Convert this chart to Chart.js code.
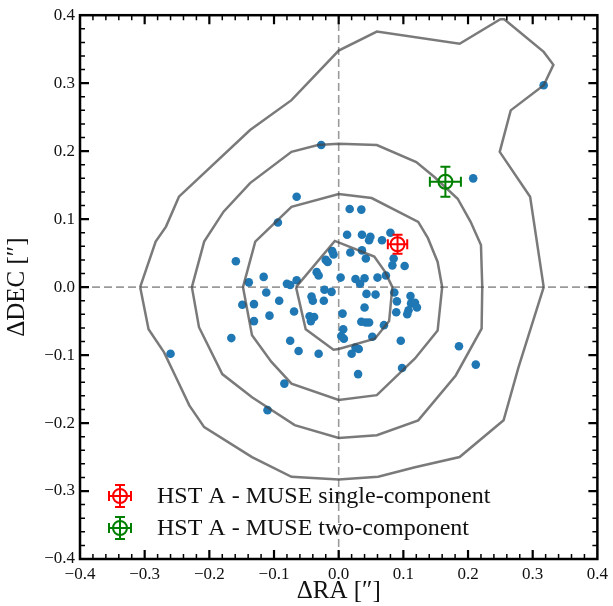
<!DOCTYPE html>
<html>
<head>
<meta charset="utf-8">
<script src="https://cdn.jsdelivr.net/npm/chart.js@4.4.0/dist/chart.umd.min.js"></script>
<style>
  html, body { margin: 0; padding: 0; background: #fff; }
  #wrap { width: 613px; height: 606px; position: relative; }
</style>
</head>
<body>
<div id="wrap"><canvas id="my-chart"></canvas></div>
<script>
// offsets of individual sources, [dRA, dDEC] in arcsec
const offsetsRA = [
  -0.065, -0.094, 0.017, 0.035, 0.013, 0.036, 0.049, 0.047, 0.067, 0.080,
  0.085, 0.083, 0.102, -0.159, -0.010, -0.008, 0.018, 0.036, 0.042, -0.020,
  -0.017, -0.034, -0.031, 0.003, 0.026, 0.040, 0.033, 0.060, 0.073, -0.116,
  -0.139, -0.080, -0.075, -0.065, -0.112, -0.149, -0.131, -0.092, -0.107, -0.131,
  -0.166, -0.022, -0.011, -0.042, -0.040, -0.023, -0.069, -0.045, -0.038, -0.043,
  0.006, 0.043, 0.057, 0.086, 0.090, 0.111, 0.112, 0.118, 0.121, 0.108,
  0.106, 0.089, 0.040, 0.035, 0.042, 0.047, 0.070, 0.007, 0.004, 0.008,
  0.052, 0.026, 0.031, 0.020, 0.096, -0.075, -0.062, -0.031, 0.098, 0.030,
  -0.084, -0.027, 0.208, 0.317, -0.260, 0.186, 0.212, -0.110
];
const offsetsDEC = [
  0.133, 0.095, 0.115, 0.114, 0.077, 0.077, 0.074, 0.069, 0.069, 0.080,
  0.042, 0.032, 0.031, 0.038, 0.053, 0.048, 0.051, 0.054, 0.042, 0.040,
  0.037, 0.022, 0.017, 0.014, 0.012, 0.013, 0.005, 0.014, 0.017, 0.015,
  0.007, 0.005, 0.003, 0.010, -0.008, -0.026, -0.025, -0.020, -0.042, -0.050,
  -0.075, -0.004, -0.007, -0.014, -0.020, -0.020, -0.036, -0.043, -0.044, -0.050,
  -0.039, -0.010, -0.011, -0.008, -0.021, -0.013, -0.024, -0.023, -0.030, -0.034,
  -0.040, -0.037, -0.030, -0.051, -0.052, -0.052, -0.056, -0.062, -0.072, -0.076,
  -0.073, -0.089, -0.091, -0.098, -0.079, -0.079, -0.094, -0.098, -0.119, -0.128,
  -0.142, 0.209, 0.160, 0.297, -0.098, -0.087, -0.114, -0.181
];

// density contours, closed polygons [x, y]
const contour1 = [
  [-0.066, 0], [-0.006, 0.068], [0.055, 0.045], [0.072, 0.022], [0.083, 0],
  [0.078, -0.050], [0.056, -0.076], [0, -0.091], [-0.008, -0.092], [-0.051, -0.062], [-0.066, 0]
];
const contour2 = [
  [-0.148, 0], [-0.129, 0.067], [-0.073, 0.118], [0, 0.137], [0.051, 0.131], [0.092, 0.111],
  [0.123, 0.096], [0.138, 0.072], [0.153, 0.037], [0.160, 0], [0.153, -0.064], [0.118, -0.105],
  [0.059, -0.159], [0, -0.166], [-0.073, -0.142], [-0.104, -0.110], [-0.134, -0.071], [-0.148, 0]
];
const contour3 = [
  [-0.227, 0], [-0.208, 0.067], [-0.178, 0.111], [-0.137, 0.153], [-0.073, 0.199], [-0.032, 0.209],
  [0, 0.211], [0.059, 0.209], [0.120, 0.184], [0.148, 0.162], [0.184, 0.130], [0.204, 0.096],
  [0.220, 0.062], [0.222, 0], [0.221, -0.061], [0.181, -0.130], [0.123, -0.196], [0.059, -0.218],
  [0, -0.222], [-0.068, -0.203], [-0.134, -0.162], [-0.180, -0.128], [-0.216, -0.059], [-0.227, 0]
];
const contour4 = [
  [-0.307, 0], [-0.283, 0.067], [-0.267, 0.089], [-0.247, 0.133], [-0.137, 0.231], [-0.073, 0.275],
  [0, 0.348], [0.059, 0.376], [0.187, 0.358], [0.250, 0.394], [0.256, 0.394], [0.317, 0.346],
  [0.332, 0.327], [0.317, 0.297], [0.266, 0.260], [0.249, 0.199], [0.296, 0.133], [0.317, 0],
  [0.278, -0.118], [0.255, -0.196], [0.187, -0.250], [0.118, -0.265], [0.061, -0.279], [0, -0.283],
  [-0.073, -0.279], [-0.134, -0.250], [-0.208, -0.206], [-0.231, -0.174], [-0.252, -0.132],
  [-0.270, -0.096], [-0.294, -0.062], [-0.307, 0]
];

// HST A - MUSE offsets with errors
const offsetLabels = ['HST A - MUSE single-component', 'HST A - MUSE two-component'];
const offsetX = [0.091, 0.165];
const offsetY = [0.063, 0.155];
const offsetXErr = [0.015, 0.024];
const offsetYErr = [0.014, 0.022];
const offsetColors = ['#ff0000', '#008000'];

const axisMin = -0.4, axisMax = 0.4;
const majorStep = 0.1, minorStep = 0.02;

const FONT = "'Liberation Serif', 'Times New Roman', serif";

const toXY = arr => arr.map(p => ({x: p[0], y: p[1]}));
const fmt = v => {
  const r = Math.round(v * 10) / 10;
  return (r < 0 ? '\u2212' : '') + Math.abs(r).toFixed(1);
};

function contourSet(pts) {
  return {
    data: toXY(pts),
    showLine: true,
    borderColor: 'rgba(70,70,70,0.72)',
    borderWidth: 2.5,
    pointRadius: 0,
    fill: false,
    tension: 0,
    order: 1
  };
}

function drawErrMarker(ctx, cx, cy, dx1, dx2, dy1, dy2, color, r, cap) {
  ctx.save();
  ctx.strokeStyle = color;
  ctx.lineWidth = 2;
  ctx.beginPath();
  ctx.moveTo(dx1, cy); ctx.lineTo(dx2, cy);
  ctx.moveTo(cx, dy1); ctx.lineTo(cx, dy2);
  ctx.moveTo(dx1, cy - cap); ctx.lineTo(dx1, cy + cap);
  ctx.moveTo(dx2, cy - cap); ctx.lineTo(dx2, cy + cap);
  ctx.moveTo(cx - cap, dy1); ctx.lineTo(cx + cap, dy1);
  ctx.moveTo(cx - cap, dy2); ctx.lineTo(cx + cap, dy2);
  ctx.stroke();
  ctx.beginPath();
  ctx.arc(cx, cy, r, 0, Math.PI * 2);
  ctx.stroke();
  ctx.restore();
}

const framePlugin = {
  id: 'frame',
  afterDatasetsDraw(chart) {
    const ctx = chart.ctx, a = chart.chartArea;
    const xs = chart.scales.x, ys = chart.scales.y;

    // error bar markers
    for (let i = 0; i < offsetX.length; i++) {
      const cx = xs.getPixelForValue(offsetX[i]), cy = ys.getPixelForValue(offsetY[i]);
      drawErrMarker(ctx, cx, cy,
        xs.getPixelForValue(offsetX[i] - offsetXErr[i]), xs.getPixelForValue(offsetX[i] + offsetXErr[i]),
        ys.getPixelForValue(offsetY[i] + offsetYErr[i]), ys.getPixelForValue(offsetY[i] - offsetYErr[i]),
        offsetColors[i], 7, 5);
    }

    // legend
    ctx.save();
    ctx.font = '24px ' + FONT;
    ctx.fillStyle = '#111';
    ctx.textBaseline = 'middle';
    for (let i = 0; i < offsetLabels.length; i++) {
      const ly = 496 + i * 32, lx = 120;
      drawErrMarker(ctx, lx, ly, lx - 11, lx + 11, ly - 11, ly + 11, offsetColors[i], 7, 5);
      ctx.fillText(offsetLabels[i], 157, ly + 1);
    }
    ctx.restore();

    // frame and inward ticks
    ctx.save();
    ctx.strokeStyle = '#000';
    ctx.lineWidth = 2.5;
    ctx.strokeRect(a.left, a.top, a.right - a.left, a.bottom - a.top);
    const n = Math.round((axisMax - axisMin) / minorStep);
    for (let k = 1; k < n; k++) {
      const v = axisMin + k * minorStep;
      const major = k % 5 === 0;
      const len = major ? 9 : 5;
      ctx.lineWidth = major ? 2.2 : 1.5;
      const px = xs.getPixelForValue(v), py = ys.getPixelForValue(v);
      ctx.beginPath();
      ctx.moveTo(px, a.bottom); ctx.lineTo(px, a.bottom - len);
      ctx.moveTo(px, a.top); ctx.lineTo(px, a.top + len);
      ctx.moveTo(a.left, py); ctx.lineTo(a.left + len, py);
      ctx.moveTo(a.right, py); ctx.lineTo(a.right - len, py);
      ctx.stroke();
    }
    ctx.restore();
  }
};

const chart = new Chart(document.getElementById('my-chart').getContext('2d'), {
  type: 'scatter',
  data: {
    datasets: [
      {
        data: [{x: 0, y: axisMin}, {x: 0, y: axisMax}],
        showLine: true, borderColor: '#9a9a9a', borderWidth: 1.6, borderDash: [8, 4],
        pointRadius: 0, order: 3
      },
      {
        data: [{x: axisMin, y: 0}, {x: axisMax, y: 0}],
        showLine: true, borderColor: '#9a9a9a', borderWidth: 1.6, borderDash: [8, 4],
        pointRadius: 0, order: 3
      },
      {
        data: offsetsRA.map((x, i) => ({x: x, y: offsetsDEC[i]})),
        backgroundColor: '#1f77b4',
        borderWidth: 0,
        pointRadius: 4.3,
        order: 2
      },
      contourSet(contour1),
      contourSet(contour2),
      contourSet(contour3),
      contourSet(contour4)
    ]
  },
  options: {
    responsive: true,
    maintainAspectRatio: false,
    animation: false,
    events: [],
    layout: { padding: { top: 15, right: 12, left: 0, bottom: 0 } },
    plugins: { legend: { display: false }, tooltip: { enabled: false } },
    scales: {
      x: {
        type: 'linear', min: axisMin, max: axisMax,
        afterFit: s => { s.height = 47; },
        grid: { display: false, drawTicks: false },
        border: { display: false },
        ticks: { stepSize: majorStep, padding: 5, color: '#111', font: { family: FONT, size: 17 }, callback: fmt, maxRotation: 0 },
        title: { display: true, text: '\u0394RA [\u2033]', color: '#111', font: { family: FONT, size: 25 }, padding: { top: 0, bottom: 0 } }
      },
      y: {
        type: 'linear', min: axisMin, max: axisMax,
        afterFit: s => { s.width = 80; },
        grid: { display: false, drawTicks: false },
        border: { display: false },
        ticks: { stepSize: majorStep, padding: 5, color: '#111', font: { family: FONT, size: 17 }, callback: fmt },
        title: { display: true, text: '\u0394DEC [\u2033]', color: '#111', font: { family: FONT, size: 25 }, padding: { top: 2, bottom: 0 } }
      }
    }
  },
  plugins: [framePlugin]
});
</script>
</body>
</html>
